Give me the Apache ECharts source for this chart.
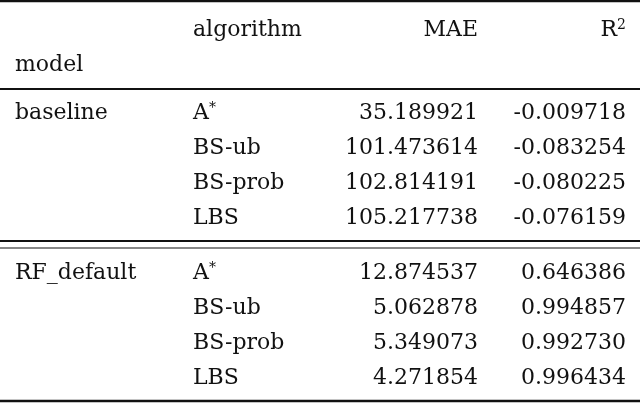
<!DOCTYPE html>
<html lang="en">
<head>
    <meta charset="UTF-8">
    <title>table</title>
    <style>
        html, body { margin: 0; padding: 0; background: #fff; }
        #main { width: 640px; height: 403px; }
    </style>
</head>
<body>
<div id="main"></div>
<script src="https://cdn.jsdelivr.net/npm/echarts@6/dist/echarts.min.js"></script>
<script>
    var models = ["baseline", "RF_default"];
    var algorithms = ["A*", "BS-ub", "BS-prob", "LBS"];
    var maeValues = [
        ["35.189921", "101.473614", "102.814191", "105.217738"],
        ["12.874537", "5.062878", "5.349073", "4.271854"]
    ];
    var r2Values = [
        ["-0.009718", "-0.083254", "-0.080225", "-0.076159"],
        ["0.646386", "0.994857", "0.992730", "0.996434"]
    ];

    var font = "'DejaVu Serif', serif";
    var fs = 22;
    var rich = {
        sup: { fontSize: 14, verticalAlign: "top", padding: [0, 0, 10, 0], fontFamily: font, fill: "#111" }
    };

    function txt(x, y, s, align) {
        return {
            type: "text",
            x: x, y: y,
            style: {
                text: s, fontFamily: font, fontSize: fs, fill: "#111",
                align: align || "left", verticalAlign: "middle", rich: rich
            }
        };
    }
    function algoLabel(a) {
        return a === "A*" ? "A{sup|*}" : a;
    }
    function rule(y, w) {
        return { type: "line", shape: { x1: 0, y1: y, x2: 640, y2: y }, style: { stroke: "#111", lineWidth: w } };
    }

    var els = [];
    els.push(rule(1, 2.5), rule(89, 1.8), rule(241, 1.8), rule(248, 1.2), rule(401, 2.5));
    els.push(txt(193, 30, "algorithm"), txt(478, 30, "MAE", "right"), txt(626, 30, "R{sup|2}", "right"));
    els.push(txt(15, 65, "model"));

    var groupTop = [113, 273];
    var rowH = 35;
    models.forEach(function (m, gi) {
        els.push(txt(15, groupTop[gi], m));
        algorithms.forEach(function (a, ri) {
            var y = groupTop[gi] + ri * rowH;
            els.push(txt(193, y, algoLabel(a)));
            els.push(txt(478, y, maeValues[gi][ri], "right"));
            els.push(txt(626, y, r2Values[gi][ri], "right"));
        });
    });

    var chart = echarts.init(document.getElementById("main"));
    chart.setOption({
        animation: false,
        backgroundColor: "#fff",
        graphic: { elements: els }
    });
</script>
</body>
</html>
